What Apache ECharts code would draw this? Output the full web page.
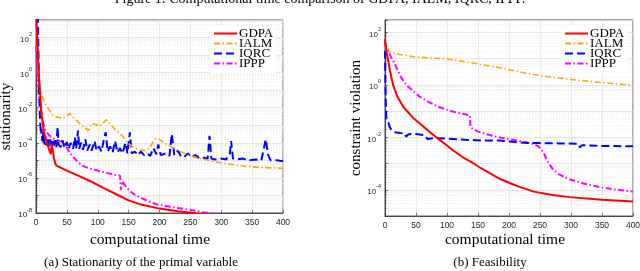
<!DOCTYPE html>
<html><head><meta charset="utf-8">
<script src="https://cdn.jsdelivr.net/npm/echarts@6/dist/echarts.min.js"></script>
<style>html,body{margin:0;padding:0;background:#fff}#c{width:640px;height:271px}</style>
</head><body><div id="c"></div>
<script>
// ---- data ----
const seriesNames = ['GDPA', 'IALM', 'IQRC', 'IPPP'];
const xTickValues = [0, 50, 100, 150, 200, 250, 300, 350, 400];

// (a) stationarity
const statGdpaT = [0, 2, 4, 6.5, 9, 12, 15, 20, 24, 25.5, 27, 29, 31, 33, 50, 70, 90, 110, 130, 150, 170, 200, 230, 255, 265];
const statGdpaV = [3.16e3, 100, 2.0, 7.94e-2, 3.98e-3, 6.31e-4, 2.0e-4, 5.62e-5, 2.24e-5, 8.91e-5, 3.98e-5, 1.41e-5, 7.08e-6, 5.01e-6, 2.63e-6, 1.26e-6, 6.03e-7, 2.63e-7, 1.17e-7, 5.25e-8, 3.02e-8, 1.78e-8, 1.26e-8, 1.0e-8, 8.91e-9];

const statIalmT = [2, 4, 6.5, 10, 14.5, 20, 28, 36, 44, 50, 55, 62, 72, 80, 85, 90, 97, 103, 109, 114, 122, 130, 141, 150, 160, 168, 178, 185, 190, 195, 200, 210, 225, 240, 260, 280, 300, 330, 360, 400];
const statIalmV = [31.6, 1, 0.158, 4.47e-2, 1.86e-2, 8.91e-3, 3.55e-3, 2.82e-3, 2.51e-3, 3.55e-3, 4.68e-3, 2.51e-3, 1.12e-3, 7.08e-4, 5.01e-4, 1.26e-3, 1.12e-3, 8.91e-4, 1.41e-3, 2.09e-3, 1e-3, 5.01e-4, 2.24e-4, 8.91e-5, 5.01e-5, 3.98e-5, 3.55e-5, 5.62e-5, 1.26e-4, 1.78e-4, 1.58e-4, 8.91e-5, 4.47e-5, 2.51e-5, 1.41e-5, 1e-5, 7.08e-6, 5.01e-6, 3.98e-6, 3.5e-6];

const statIqrcT = [3, 4, 5, 6, 7, 8, 9, 10, 11, 12, 13, 14, 15, 17, 19, 21, 23, 25, 27, 29, 31, 33, 35, 36.5, 40, 43, 46, 50, 53, 56, 60, 63, 65, 68, 70, 73, 76, 80, 83, 87, 90, 95, 98, 102, 106, 110, 113, 116, 120, 124, 128, 132, 136, 140, 145, 148, 152, 155, 160, 165, 170, 175, 180, 185, 190, 195, 198, 202, 210, 216, 220, 224, 230, 235, 240, 246, 252, 258, 265, 272, 278, 281, 284, 290, 300, 308, 314, 316, 319, 325, 335, 345, 355, 365, 372, 376, 380, 390, 400];
const statIqrcV = [2000, 10, 0.1, 6.31e-3, 1e-3, 3.16e-4, 6.31e-4, 1.26e-4, 3.98e-4, 1e-4, 3.16e-4, 7.94e-5, 2.51e-4, 7.08e-5, 2.0e-4, 6.31e-5, 1.58e-4, 5.62e-5, 1.26e-4, 5.62e-5, 1.41e-4, 5.62e-5, 7.94e-4, 7.94e-5, 5.62e-5, 1.41e-4, 5.01e-5, 1.12e-4, 4.47e-5, 1e-4, 4.47e-5, 2.0e-4, 4.47e-5, 5.01e-4, 4.47e-5, 1e-4, 3.98e-5, 1.58e-4, 3.55e-5, 7.94e-5, 3.55e-5, 1.26e-4, 3.55e-5, 6.31e-5, 3.16e-5, 1.58e-4, 3.98e-4, 3.16e-5, 6.31e-5, 2.82e-5, 1.26e-4, 2.82e-5, 5.01e-5, 2.51e-5, 1e-4, 2.51e-5, 3.98e-4, 2.51e-5, 3.16e-5, 2.0e-5, 3.16e-5, 2.0e-5, 2.51e-5, 1.78e-5, 5.01e-5, 2.24e-5, 7.94e-5, 2.0e-5, 2.51e-5, 1.78e-5, 3.16e-4, 2.0e-5, 3.55e-5, 1.58e-5, 1.58e-5, 2.51e-5, 1.41e-5, 2.0e-5, 1.26e-5, 1.41e-5, 1.26e-5, 2.51e-4, 1.26e-5, 1.12e-5, 1.26e-5, 1.12e-5, 2.51e-5, 1.26e-4, 1.26e-5, 1.12e-5, 1.26e-5, 1e-5, 1.12e-5, 1e-5, 1.58e-4, 2.0e-5, 1e-5, 1e-5, 8.91e-6];

const statIpppT = [0, 2, 4, 6, 9, 12, 15, 22, 30, 39, 44, 50, 55, 60, 68, 77, 88, 98, 115, 128, 136, 137.5, 139.5, 145, 152, 160, 168, 180, 195, 210, 230, 250, 270, 292];
const statIpppV = [31.6, 1, 0.158, 2.51e-2, 3.98e-3, 1.26e-3, 5.01e-4, 2.51e-4, 1.58e-4, 1.26e-4, 1.12e-4, 5.01e-5, 2.51e-5, 1.58e-5, 7.94e-6, 4.68e-6, 3.31e-6, 2.75e-6, 1.91e-6, 1.51e-6, 1.35e-6, 2.09e-7, 6.31e-7, 3.55e-7, 1.78e-7, 1.12e-7, 7.94e-8, 5.01e-8, 3.16e-8, 2.51e-8, 1.91e-8, 1.51e-8, 1.12e-8, 8.91e-9];

// (b) feasibility
const feasGdpaT = [0, 1, 3, 5, 8, 13, 20, 30, 45, 60, 75, 83, 100, 110, 125, 140, 153, 164, 185, 202, 218, 240, 270, 298, 350, 400];
const feasGdpaV = [56.2, 31.6, 15.8, 8.91, 3.55, 1, 0.355, 0.141, 5.62e-2, 2.82e-2, 1.41e-2, 1e-2, 4.9e-3, 3.16e-3, 1.78e-3, 1.12e-3, 7.08e-4, 5.01e-4, 2.63e-4, 1.78e-4, 1.26e-4, 8.51e-5, 6.31e-5, 5.25e-5, 4.17e-5, 3.55e-5];

const feasIalmT = [0, 5, 20, 45, 70, 100, 125, 150, 175, 200, 225, 250, 275, 300, 325, 350, 375, 400];
const feasIalmV = [20.9, 19.1, 15.1, 12.0, 10.7, 10.0, 7.94, 6.31, 5.01, 3.8, 2.88, 2.29, 1.91, 1.62, 1.41, 1.23, 1.10, 0.955];

const feasIqrcT = [0, 0.6, 1.2, 1.8, 2.5, 5, 8, 11, 16, 25, 32, 34, 38, 50, 65, 68, 80, 100, 130, 155, 185, 210, 230, 250, 280, 312, 314, 318, 350, 400];
const feasIqrcV = [20, 2.0, 0.251, 7.94e-2, 5.01e-2, 3.8e-2, 2.4e-2, 1.82e-2, 1.58e-2, 1.48e-2, 1.41e-2, 1.07e-2, 1.32e-2, 1.35e-2, 1.2e-2, 8.71e-3, 9.33e-3, 8.91e-3, 8.13e-3, 7.59e-3, 7.59e-3, 6.61e-3, 6.03e-3, 6.03e-3, 5.89e-3, 5.75e-3, 4.17e-3, 5.01e-3, 4.68e-3, 4.57e-3];

const feasIpppT = [0, 2, 5, 10, 15, 20, 27, 35, 45, 56, 70, 85, 100, 115, 125, 137, 138, 142, 150, 164, 180, 200, 220, 240, 248, 255, 262, 270, 280, 295, 320, 347, 375, 400];
const feasIpppV = [44.7, 28.2, 20, 11.2, 7.08, 3.8, 1.78, 0.955, 0.603, 0.355, 0.224, 0.151, 0.112, 8.91e-2, 7.94e-2, 6.92e-2, 2.4e-2, 2.09e-2, 1.66e-2, 1.32e-2, 1.05e-2, 8.51e-3, 7.08e-3, 5.62e-3, 4.47e-3, 2.82e-3, 1.26e-3, 6.31e-4, 3.98e-4, 2.63e-4, 1.74e-4, 1.26e-4, 1e-4, 8.51e-5];

// ---- chart ----
const colors = ['#ff0000', '#ffa500', '#0000ff', '#ff00ff'];
const lineTypes = ['solid', [6, 2.5, 1.5, 2.5], [8, 4], [6, 2.5, 1.5, 2.5]];
const lineWidths = [2, 1.6, 2, 2];
const SERIF = '"Liberation Serif", "DejaVu Serif", serif';
const SANS = '"Liberation Sans", Arial, sans-serif';

function zip(t, v) { return t.map((x, i) => [x, v[i]]); }
function powLabel(v) {
  const l = Math.log10(v);
  const e = Math.round(l);
  if (Math.abs(l - e) > 1e-6 || e % 2 !== 0) return '';
  return '{b|10}{s|' + e + '}';
}

function xAxisOpt(gi) {
  return {
    type: 'value', gridIndex: gi, min: 0, max: 400, interval: 50,
    axisLine: { show: true, lineStyle: { color: '#262626', width: 0.8 } },
    axisTick: { show: true, inside: true, length: 3, lineStyle: { color: '#262626', width: 0.6 } },
    axisLabel: { fontFamily: SANS, fontSize: 8.5, color: '#262626', margin: 5 },
    splitLine: { show: true, lineStyle: { color: '#e4e4e4', width: 0.8 } }
  };
}
function yAxisOpt(gi, min, max, name, gap) {
  return {
    type: 'log', logBase: 10, gridIndex: gi, min: min, max: max, interval: 1,
    axisLine: { show: true, lineStyle: { color: '#262626', width: 0.8 } },
    axisTick: { show: true, inside: true, length: 3, lineStyle: { color: '#262626', width: 0.6 } },
    minorTick: { show: true, splitNumber: 9, length: 1.5, lineStyle: { color: '#262626', width: 0.5 } },
    axisLabel: {
      formatter: powLabel, margin: 4,
      rich: {
        b: { fontFamily: SANS, fontSize: 8, color: '#262626', lineHeight: 12, verticalAlign: 'bottom' },
        s: { fontFamily: SANS, fontSize: 5.5, color: '#262626', lineHeight: 7, verticalAlign: 'top' }
      }
    },
    splitLine: { show: true, lineStyle: { color: '#e0e0e0', width: 0.8 } },
    minorSplitLine: { show: true, lineStyle: { color: '#e8e8e8', width: 0.6, type: [1.5, 1.5] } },
    name: name, nameLocation: 'middle', nameGap: gap,
    nameTextStyle: { fontFamily: SERIF, fontSize: 15, color: '#000' }
  };
}

const statSets = [[statGdpaT, statGdpaV], [statIalmT, statIalmV], [statIqrcT, statIqrcV], [statIpppT, statIpppV]];
const feasSets = [[feasGdpaT, feasGdpaV], [feasIalmT, feasIalmV], [feasIqrcT, feasIqrcV], [feasIpppT, feasIpppV]];

const series = [];
[statSets, feasSets].forEach((sets, gi) => {
  sets.forEach((s, i) => {
    series.push({
      type: 'line', name: seriesNames[i], xAxisIndex: gi, yAxisIndex: gi,
      data: zip(s[0], s[1]), symbol: 'none', showSymbol: false, silent: true,
      z: 10 - i,
      lineStyle: { color: colors[i], width: lineWidths[i], type: lineTypes[i] },
      itemStyle: { color: colors[i] }, animation: false, clip: true
    });
  });
});

function legendOpt(left) {
  return {
    data: seriesNames, orient: 'vertical', left: left, top: 26,
    itemWidth: 23, itemHeight: 10, itemGap: -3, padding: [1, 3, 3, 3],
    backgroundColor: '#ffffff', selectedMode: false,
    itemStyle: { color: 'rgba(0,0,0,0)', borderColor: 'rgba(0,0,0,0)', borderWidth: 0, opacity: 0 },
    textStyle: { fontFamily: SERIF, fontSize: 13, color: '#000', padding: [0, 0, 0, -3] }
  };
}

const chart = echarts.init(document.getElementById('c'), null, { renderer: 'canvas' });
chart.setOption({
  animation: false,
  backgroundColor: '#ffffff',
  grid: [
    { left: 36, top: 20, width: 247, height: 193, show: true, borderColor: '#262626', borderWidth: 0.8, containLabel: false, outerBoundsMode: 'none' },
    { left: 385, top: 20, width: 248, height: 196, show: true, borderColor: '#262626', borderWidth: 0.8, containLabel: false, outerBoundsMode: 'none' }
  ],
  xAxis: [xAxisOpt(0), xAxisOpt(1)],
  yAxis: [yAxisOpt(0, 1e-8, 1e3, 'stationarity', 22), yAxisOpt(1, 1e-5, 300, 'constraint violation', 16)],
  legend: [legendOpt(210), legendOpt(561)],
  series: series,
  graphic: [
    { type: 'text', x: 320, y: -1, style: { text: 'Figure 1: Computational time comparison of GDPA, IALM, IQRC, IPPP.', fontFamily: SERIF, fontSize: 14, fill: '#000', align: 'center', verticalAlign: 'middle' } },
    { type: 'text', x: 150, y: 240, style: { text: 'computational time', fontFamily: SERIF, fontSize: 15.5, fill: '#000', align: 'center', verticalAlign: 'middle' } },
    { type: 'text', x: 505, y: 240, style: { text: 'computational time', fontFamily: SERIF, fontSize: 15.5, fill: '#000', align: 'center', verticalAlign: 'middle' } },
    { type: 'text', x: 141, y: 263, style: { text: '(a) Stationarity of the primal variable', fontFamily: SERIF, fontSize: 13, fill: '#000', align: 'center', verticalAlign: 'middle' } },
    { type: 'text', x: 490, y: 263, style: { text: '(b) Feasibility', fontFamily: SERIF, fontSize: 13, fill: '#000', align: 'center', verticalAlign: 'middle' } }
  ]
});
</script></body></html>
